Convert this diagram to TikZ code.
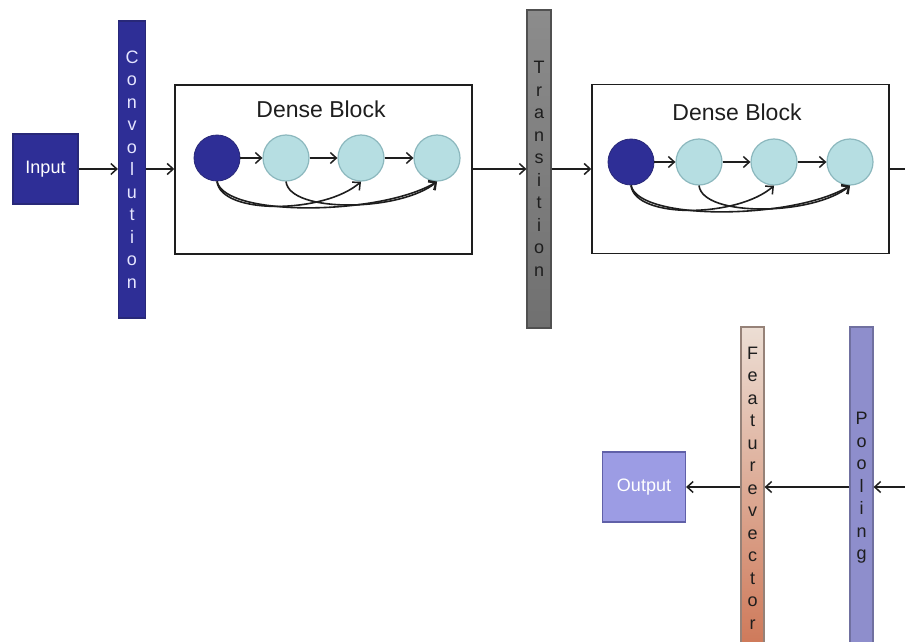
\documentclass[tikz,border=0pt]{standalone}
\usepackage{fontspec}
\setmainfont{Liberation Sans}
\usetikzlibrary{arrows.meta,calc}

\definecolor{navy}{RGB}{46,46,150}
\definecolor{navyedge}{RGB}{40,40,120}
\definecolor{cellfill}{RGB}{182,222,226}
\definecolor{celledge}{RGB}{140,184,190}
\definecolor{greytop}{RGB}{140,140,140}
\definecolor{greybot}{RGB}{112,112,112}
\definecolor{greyedge}{RGB}{80,80,80}
\definecolor{lavender}{RGB}{142,142,204}
\definecolor{lavedge}{RGB}{112,112,160}
\definecolor{peachtop}{RGB}{236,222,212}
\definecolor{peachbot}{RGB}{206,120,88}
\definecolor{peachedge}{RGB}{150,130,120}
\definecolor{outfill}{RGB}{156,156,228}
\definecolor{outedge}{RGB}{96,96,168}
\definecolor{ink}{RGB}{30,30,30}

\begin{document}
\begin{tikzpicture}[x=1pt,y=-1pt,
  arr/.style={draw=ink, line width=1.6pt, -{Straight Barb[length=6pt,width=11pt,line width=1.5pt]}},
  link/.style={draw=ink, line width=1.6pt},
  bar/.style={rectangle, inner sep=0pt, line width=1.2pt, align=center,
    font=\fontsize{18}{22.5}\selectfont},
  block/.style={rectangle, draw=ink, fill=white, line width=1.5pt,
    minimum width=297pt, minimum height=169pt, inner sep=0pt},
  title/.style={font=\fontsize{23}{26}\selectfont, text=ink},
  cellroot/.style={circle, fill=navy, draw=navyedge, line width=0.8pt,
    minimum size=46pt, inner sep=0pt},
  cell/.style={circle, fill=cellfill, draw=celledge, line width=1.2pt,
    minimum size=46pt, inner sep=0pt},
  boxnode/.style={rectangle, inner sep=0pt, line width=1.2pt,
    font=\fontsize{18}{20}\selectfont, text=white}
]
\useasboundingbox (0,0) rectangle (905,642);
\clip (0,0) rectangle (905,642);

% input and first convolution
\node[boxnode, fill=navy, draw=navyedge, minimum width=65pt, minimum height=70pt]
  (input) at (45.5,169) {Input};
\node[bar, fill=navy, draw=navyedge, text=white!90!blue,
  minimum width=27pt, minimum height=297pt] (conv) at (132,169.5)
  {C\\o\\n\\v\\o\\l\\u\\t\\i\\o\\n};

% first dense block
\node[block] (blockA) at (323.5,169.5) {};
\node[title] (titleA) at (321,109) {Dense Block};
\node[cellroot] (a1) at (217,158) {};
\node[cell] (a2) at (286,158) {};
\node[cell] (a3) at (361,158) {};
\node[cell] (a4) at (437,158) {};

% transition layer
\node[bar, top color=greytop, bottom color=greybot, draw=greyedge, text=ink,
  minimum width=24pt, minimum height=318pt] (trans) at (539,169)
  {T\\r\\a\\n\\s\\i\\t\\i\\o\\n};

% second dense block
\node[block] (blockB) at (740.5,169) {};
\node[title] (titleB) at (737,112) {Dense Block};
\node[cellroot] (b1) at (631,162) {};
\node[cell] (b2) at (699,162) {};
\node[cell] (b3) at (774,162) {};
\node[cell] (b4) at (850,162) {};

% classification head
\node[bar, fill=lavender, draw=lavedge, text=ink,
  minimum width=23pt, minimum height=322pt] (pool) at (861.5,488)
  {P\\o\\o\\l\\i\\n\\g};
\node[bar, top color=peachtop, bottom color=peachbot, draw=peachedge, text=ink,
  minimum width=23pt, minimum height=322pt] (feat) at (752.5,488)
  {F\\e\\a\\t\\u\\r\\e\\v\\e\\c\\t\\o\\r};
\node[boxnode, fill=outfill, draw=outedge, minimum width=83pt, minimum height=70pt]
  (out) at (644,487) {Output};

% main data path
\coordinate (row) at (0,169);
\coordinate (edgeR) at (905,169);
\coordinate (edgeP) at (905,487);
\draw[arr] (input.east) -- (input.east -| conv.west);
\draw[arr] (row -| conv.east) -- (row -| blockA.west);
\draw[arr] (row -| blockA.east) -- (row -| trans.west);
\draw[arr] (row -| trans.east) -- (row -| blockB.west);
\draw[link] (row -| blockB.east) -- (edgeR);

\draw[arr] (edgeP) -- (edgeP -| pool.east);
\draw[arr] (edgeP -| pool.west) -- (edgeP -| feat.east);
\draw[arr] (edgeP -| feat.west) -- (edgeP -| out.east);

% layers inside the dense blocks
\foreach \p in {a,b}{
  \draw[arr] (\p1) -- (\p2);
  \draw[arr] (\p2) -- (\p3);
  \draw[arr] (\p3) -- (\p4);
  \draw[arr] (\p1.south) .. controls +(4,34) and +(-36,32) .. (\p3.south);
  \draw[arr] (\p1.south) .. controls +(8,36) and +(-56,34) .. (\p4.south);
  \draw[arr] (\p2.south) .. controls +(4,32) and +(-36,30) .. (\p4.south);
}
\end{tikzpicture}
\end{document}
